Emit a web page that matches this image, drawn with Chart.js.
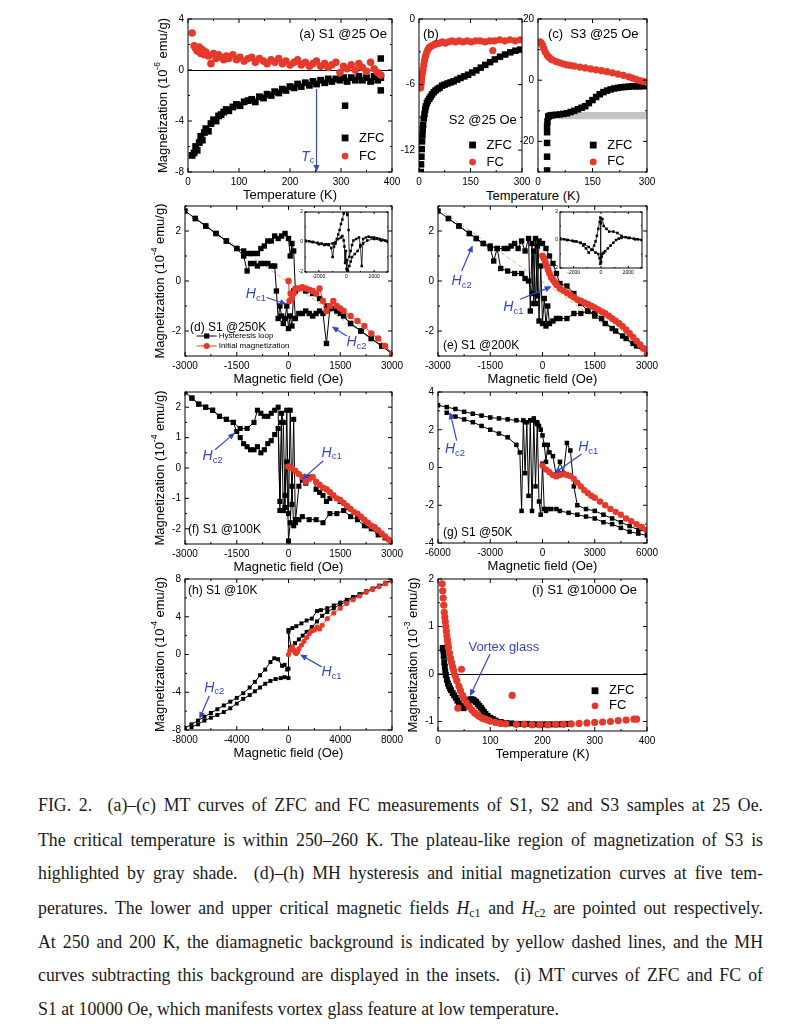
<!DOCTYPE html>
<html>
<head>
<meta charset="utf-8">
<title>FIG. 2</title>
<script src="https://cdn.jsdelivr.net/npm/chart.js@4.4.1/dist/chart.umd.min.js"></script>
<style>
  body { margin: 0; background: #fff; }
  #page { position: relative; width: 801px; height: 1024px; overflow: hidden; font-family: "Liberation Sans", Arial, sans-serif; }
  #page canvas { position: absolute; }
  .lab { position: absolute; font-size: 13px; transform: translate(-50%, -50%); white-space: nowrap; color: #000; }
  .cap { position: absolute; left: 38px; width: 725px; font-family: "Liberation Serif", "Times New Roman", serif; font-size: 17.8px; line-height: 20px; text-align: justify; text-align-last: justify; color: #1a1a1a; }
  .cap.last { text-align-last: left; }
  .cap sub { font-size: 12px; line-height: 0; vertical-align: -3px; }
</style>
</head>
<body>
<div id="page">
  <div class="lab" style="left:533px;top:195px">Temperature (K)</div>
  <div class="cap" style="top:795px">FIG. 2.&nbsp; (a)–(c) MT curves of ZFC and FC measurements of S1, S2 and S3 samples at 25 Oe.</div>
  <div class="cap" style="top:830px">The critical temperature is within 250–260 K. The plateau-like region of magnetization of S3 is</div>
  <div class="cap" style="top:863px">highlighted by gray shade.&nbsp; (d)–(h) MH hysteresis and initial magnetization curves at five tem-</div>
  <div class="cap" style="top:898px">peratures. The lower and upper critical magnetic fields <i>H</i><sub>c1</sub> and <i>H</i><sub>c2</sub> are pointed out respectively.</div>
  <div class="cap" style="top:932px">At 250 and 200 K, the diamagnetic background is indicated by yellow dashed lines, and the MH</div>
  <div class="cap" style="top:965px">curves subtracting this background are displayed in the insets.&nbsp; (i) MT curves of ZFC and FC of</div>
  <div class="cap last" style="top:999px">S1 at 10000 Oe, which manifests vortex glass feature at low temperature.</div>
</div>
<script>
// ---- data ----

// (a) S1 @25 Oe, M in 1e-6 emu/g
const aT = [8, 12, 15, 18, 22, 25, 28, 32, 35, 40, 45, 50, 55, 60, 65, 70, 75, 80, 88, 95, 102, 110, 118, 125, 132, 140, 148, 155, 163, 170, 178, 185, 192, 200, 208, 215, 222, 230, 238, 245, 252, 260, 268, 275, 282, 290, 298, 305, 312, 320, 328, 335, 342, 350, 358, 365, 372, 378];
const aZfc = [-6.7, -6.5, -6.0, -6.3, -5.7, -5.2, -5.5, -4.9, -4.6, -4.8, -4.2, -3.9, -4.0, -3.6, -3.5, -3.3, -3.1, -3.2, -2.9, -2.7, -2.8, -2.5, -2.4, -2.3, -2.5, -2.1, -2.2, -1.9, -2.0, -1.7, -1.8, -1.5, -1.6, -1.3, -1.4, -1.1, -1.3, -1.0, -1.2, -0.9, -1.1, -0.8, -1.0, -0.7, -0.9, -0.7, -0.8, -0.6, -0.9, -0.6, -0.8, -0.5, -0.8, -0.6, -0.9, -0.5, -0.8, -0.6];
const aFc = [2.9, 1.9, 1.7, 1.5, 1.8, 1.3, 1.6, 1.2, 1.4, 1.1, 0.5, 1.3, 0.9, 1.2, 1.0, 0.8, 1.1, 0.9, 1.2, 0.8, 1.0, 0.7, 0.9, 1.0, 0.6, 0.9, 0.7, 0.5, 0.8, 0.6, 0.9, 0.5, 0.7, 0.4, 0.6, 0.8, 0.4, 0.6, 0.3, 0.5, 0.7, 0.3, 0.5, 0.2, 0.4, 0.6, -0.2, 0.3, 0.1, 0.4, 0.0, 0.5, 0.2, -0.1, 0.6, 0.1, -0.2, -0.4];
const aZfcOddT = [308, 378, 378];
const aZfcOdd = [-2.8, 0.9, -1.6];

// (b) S2 @25 Oe
const bZfcT = [5, 6, 7, 8, 9, 10, 11, 12, 14, 16, 18, 20, 23, 26, 30, 34, 38, 43, 48, 54, 60, 67, 75, 83, 92, 101, 111, 121, 132, 143, 155, 167, 180, 193, 207, 221, 236, 251, 266, 281, 295];
const bZfc = [-14, -13.3, -12.6, -11.9, -11.2, -10.6, -10.1, -9.7, -9.1, -8.7, -8.3, -8.0, -7.7, -7.5, -7.3, -7.1, -6.9, -6.7, -6.55, -6.4, -6.3, -6.1, -6.0, -5.9, -5.8, -5.7, -5.55, -5.4, -5.25, -5.1, -4.9, -4.7, -4.45, -4.2, -3.95, -3.7, -3.45, -3.25, -3.05, -2.9, -2.8];
const bFcT = [5, 6, 7, 8, 9, 10, 12, 14, 16, 18, 20, 23, 26, 30, 35, 40, 46, 52, 60, 68, 77, 86, 96, 106, 117, 128, 140, 152, 165, 178, 192, 206, 215, 220, 235, 250, 265, 280, 295];
const bFc = [-6.3, -6.0, -5.7, -5.4, -5.1, -4.9, -4.6, -4.2, -3.8, -3.5, -3.3, -3.0, -2.8, -2.6, -2.5, -2.4, -2.3, -2.25, -2.2, -2.1, -2.2, -2.1, -2.0, -2.1, -2.0, -2.1, -2.0, -2.1, -2.0, -2.0, -2.1, -2.0, -2.9, -2.0, -1.9, -2.0, -1.9, -2.0, -1.9];

// (c) S3 @25 Oe
const cZfcT = [25, 25, 25, 25, 25, 26, 28, 30, 35, 40, 50, 60, 70, 80, 90, 100, 110, 120, 130, 140, 150, 160, 170, 180, 190, 200, 210, 220, 230, 240, 250, 260, 270, 280, 290, 300];
const cZfc = [-29.5, -25, -20.5, -17, -15, -13.5, -12, -11.7, -11.5, -11.4, -11.3, -11.2, -11.0, -10.8, -10.4, -10.0, -9.5, -9.0, -8.5, -7.5, -6.5, -5.5, -4.6, -3.9, -3.4, -3.0, -2.7, -2.5, -2.3, -2.2, -2.1, -2.0, -2.0, -2.0, -1.9, -1.9];
const cFcT = [5, 8, 10, 13, 16, 20, 25, 30, 35, 40, 50, 60, 70, 80, 90, 100, 115, 130, 145, 160, 175, 190, 205, 220, 235, 250, 260, 270, 280, 290, 300];
const cFc = [12.5, 12.3, 12.0, 11.3, 10.3, 9.2, 8.2, 7.5, 7.0, 6.6, 6.1, 5.7, 5.3, 5.0, 4.8, 4.6, 4.3, 4.0, 3.7, 3.4, 3.1, 2.8, 2.4, 2.0, 1.6, 1.1, 0.7, 0.3, -0.1, -0.4, -0.7];
const cBandT = [28, 300];
const cBandHi = [-10.4, -10.4];
const cBandLo = -12.8;

// (d) S1 @250K, M in 1e-4 emu/g
const dDownH = [3000, 2700, 2400, 2100, 1800, 1500, 1300, 1100, 900, 700, 500, 300, 200, 150, 100, 50, 0, -100, -200, -300, -400, -500, -600, -700, -800, -900, -1000, -1100, -1200, -1300, -1500, -1800, -2100, -2400, -2700, -3000];
const dDown = [-2.9, -2.6, -2.3, -2.0, -1.7, -1.3, -1.1, -1.0, -0.7, -0.5, -0.4, -0.3, -0.4, 1.2, 1.5, 1.0, 1.7, 1.9, 1.8, 1.7, 1.8, 1.6, 1.6, 1.4, 1.3, 1.1, 1.1, 1.1, 1.1, 1.2, 1.3, 1.6, 1.9, 2.2, 2.5, 2.8];
const dUpH = [-2700, -2400, -2100, -1800, -1500, -1300, -1200, -1100, -1000, -900, -800, -700, -600, -500, -400, -350, -300, -250, -200, -150, -100, -50, 0, 50, 100, 150, 200, 300, 400, 500, 600, 700, 800, 900, 1000, 1100, 1200, 1400, 1600, 1800, 2100, 2400, 2700, 3000];
const dUp = [2.5, 2.2, 1.9, 1.6, 1.3, 1.0, 0.4, 0.7, 0.7, 0.6, 0.7, 0.7, 0.7, 0.6, 0.6, -0.4, -1.5, -1.0, -1.4, -1.7, -1.5, -1.0, -1.9, -1.4, -1.8, -0.4, -1.5, -1.3, -1.3, -1.2, -1.3, -1.4, -1.3, -1.2, -1.3, -2.5, -1.1, -1.2, -1.4, -1.7, -2.0, -2.3, -2.6, -2.9];
const dIniH = [0, 30, 60, 100, 150, 200, 300, 400, 500, 600, 700, 800, 900, 1000, 1100, 1200, 1300, 1400, 1500, 1600, 1800, 2000, 2200, 2400, 2600, 2800, 3000];
const dIni = [0.0, -0.8, -0.5, -0.7, -0.5, -0.3, -0.3, -0.25, -0.3, -0.35, -0.4, -0.5, -0.3, -0.8, -1.2, -1.0, -0.8, -1.0, -1.1, -1.2, -1.4, -1.6, -1.8, -2.1, -2.3, -2.6, -2.9];
const dBgH = [-3000, 3000];
const dBg = [2.8, -2.9];
// (d) inset, background removed
const dInsAH = [-3000, -2700, -2400, -2100, -1800, -1500, -1300, -1100, -1000, -900, -800, -700, -600, -500, -400, -300, -200, -150, -100, -50, 0, 50, 100, 150, 200, 300, 400, 500, 700, 900, 1000, 1100, 1200, 1400, 1600, 1800, 2000, 2200, 2400, 2600, 2800, 3000];
const dInsA = [0.1, 0.05, 0.0, -0.05, -0.1, -0.15, -0.2, -0.4, -1.0, -0.3, -0.1, 0.2, 0.5, 0.8, 1.2, 1.5, 1.9, 2.6, 2.3, 2.8, 2.5, 1.8, 2.6, 0.8, -1.0, -0.6, -0.2, 0.1, 0.2, 0.3, -0.2, -1.6, 0.2, 0.3, 0.35, 0.3, 0.3, 0.25, 0.2, 0.15, 0.1, 0.05];
const dInsBH = [3000, 2500, 2000, 1500, 1200, 1000, 800, 600, 400, 300, 200, 100, 50, 0, -50, -100, -150, -200, -300, -400, -600, -800, -1000, -1300, -1600, -2000, -2500, -3000];
const dInsB = [0.0, 0.1, 0.2, 0.1, -0.1, -0.3, -0.6, -0.8, -1.0, -1.3, -1.6, -1.9, -1.2, -1.8, -0.6, -1.4, -0.3, 0.1, 0.4, 0.3, 0.2, 0.0, -0.1, -0.15, -0.2, -0.15, 0.0, 0.1];

// (e) S1 @200K
const eDownH = [3000, 2700, 2400, 2100, 1800, 1500, 1300, 1100, 900, 700, 500, 400, 300, 200, 100, 0, -100, -150, -200, -250, -300, -350, -400, -500, -600, -700, -800, -900, -1000, -1100, -1300, -1500, -1700, -1900, -2100, -2400, -2700, -3000];
const eDown = [-2.9, -2.6, -2.3, -2.0, -1.7, -1.4, -1.2, -0.9, -0.5, -0.2, -0.1, 0.3, 0.7, 1.0, 1.3, 1.5, 1.6, -0.6, 1.7, -0.9, 1.5, -1.2, 1.7, 1.2, 1.6, 1.3, 1.5, 1.4, 1.3, 1.3, 1.3, 1.4, 1.5, 1.7, 1.9, 2.2, 2.5, 2.8];
const eUpH = [-2700, -2400, -2100, -1900, -1700, -1500, -1400, -1300, -1200, -1000, -800, -600, -500, -400, -300, -250, -200, -150, -100, -50, 0, 50, 100, 150, 200, 300, 400, 500, 700, 900, 1100, 1300, 1500, 1700, 2000, 2300, 2600, 3000];
const eUp = [2.5, 2.2, 1.9, 1.7, 1.5, 1.3, 0.8, 1.3, 0.5, 0.4, 0.3, 0.3, 0.1, 0.0, -0.5, 1.2, -0.9, 1.4, -1.6, 0.6, -1.7, -0.7, -1.8, -1.0, -1.7, -1.6, -1.5, -1.5, -1.5, -1.3, -1.3, -1.2, -1.3, -1.5, -1.9, -2.2, -2.5, -2.9];
const eIniH = [0, 40, 80, 120, 160, 200, 250, 300, 350, 400, 500, 600, 700, 800, 900, 1000, 1100, 1200, 1300, 1400, 1500, 1600, 1700, 1800, 1900, 2000, 2100, 2200, 2300, 2400, 2500, 2600, 2700, 2800, 2900, 3000];
const eIni = [1.0, 0.9, 0.75, 0.6, 0.45, 0.3, 0.15, 0.05, -0.05, -0.15, -0.3, -0.38, -0.47, -0.56, -0.65, -0.75, -0.8, -0.87, -0.93, -1.0, -1.07, -1.15, -1.23, -1.3, -1.4, -1.5, -1.6, -1.7, -1.82, -1.95, -2.1, -2.25, -2.4, -2.55, -2.7, -2.9];
const eBgH = [-3000, 3000];
const eBg = [2.9, -2.95];
const eInsAH = [-3000, -2700, -2400, -2100, -1800, -1500, -1300, -1100, -900, -700, -500, -400, -300, -200, -100, -50, 0, 50, 100, 200, 300, 500, 700, 900, 1100, 1300, 1500, 1800, 2100, 2400, 2700, 3000];
const eInsA = [0.1, 0.05, 0.0, -0.05, -0.1, -0.2, -0.4, -0.6, -0.9, -0.7, -0.4, -0.1, 0.3, 0.8, 1.3, 1.6, -1.6, -1.2, -1.0, -0.9, -0.8, -0.6, -0.4, -0.2, 0.0, 0.1, 0.15, 0.2, 0.15, 0.1, 0.05, 0.0];
const eInsBH = [3000, 2500, 2000, 1500, 1200, 900, 600, 400, 200, 100, 0, -50, -100, -200, -400, -600, -900, -1200, -1500, -2000, -2500, -3000];
const eInsB = [0.0, 0.05, 0.15, 0.3, 0.5, 0.6, 0.6, 0.8, 1.0, 1.5, 1.2, -1.7, -1.3, -1.0, -0.9, -0.7, -0.5, -0.3, -0.2, -0.1, 0.0, 0.1];

// (f) S1 @100K
const fDownH = [3000, 2600, 2300, 2000, 1700, 1500, 1300, 1200, 1100, 1000, 900, 800, 700, 600, 500, 400, 300, 200, 150, 100, 50, 0, -50, -100, -150, -200, -250, -300, -400, -500, -600, -700, -800, -900, -1000, -1200, -1400, -1600, -1800, -2000, -2200, -2400, -2600, -2800, -3000];
const fDown = [-2.5, -2.1, -1.9, -1.6, -1.3, -1.1, -0.9, -1.0, -1.1, -0.9, -0.8, -0.7, -0.3, -0.3, -0.5, -0.4, -0.6, -1.8, 1.6, -1.2, 1.9, -1.5, 1.9, -1.3, 1.5, 1.8, -1.4, 2.0, 1.9, 1.8, 1.7, 1.7, 1.8, 1.9, 1.5, 1.3, 1.3, 1.5, 1.6, 1.7, 1.9, 2.0, 2.1, 2.3, 2.5];
const fUpH = [-2800, -2600, -2400, -2200, -2000, -1800, -1600, -1500, -1400, -1300, -1200, -1100, -1000, -900, -800, -700, -600, -500, -400, -300, -250, -200, -150, -100, -50, 0, 50, 100, 150, 200, 300, 400, 600, 800, 1000, 1200, 1400, 1600, 1800, 2000, 2200, 2400, 2600, 2800, 3000];
const fUp = [2.3, 2.1, 2.0, 1.9, 1.7, 1.6, 1.5, 1.2, 1.0, 0.8, 0.7, 0.6, 0.6, 0.7, 0.5, 0.6, 0.8, 0.9, 1.1, 1.3, -1.1, 1.5, -1.4, -0.9, 0.2, -2.4, -1.8, -0.6, -1.9, -1.7, -1.7, -1.6, -1.7, -1.7, -1.8, -1.5, -1.5, -1.4, -1.6, -1.7, -1.9, -2.0, -2.2, -2.3, -2.5];
const fIniH = [0, 100, 200, 300, 400, 500, 600, 700, 800, 900, 1000, 1100, 1200, 1300, 1400, 1500, 1600, 1700, 1800, 1900, 2000, 2100, 2200, 2300, 2400, 2500, 2600, 2700, 2800, 2900, 3000];
const fIni = [0.05, 0.0, -0.1, -0.2, -0.3, -0.45, -0.35, -0.3, -0.45, -0.55, -0.65, -0.7, -0.8, -0.9, -1.0, -1.05, -1.15, -1.25, -1.35, -1.45, -1.5, -1.6, -1.7, -1.8, -1.9, -1.95, -2.05, -2.15, -2.25, -2.35, -2.45];

// (g) S1 @50K
const gDownH = [6000, 5500, 5000, 4500, 4000, 3500, 3000, 2500, 2000, 1800, 1600, 1400, 1200, 1000, 800, 600, 400, 300, 200, 100, 0, -100, -200, -300, -400, -500, -700, -1000, -1500, -2000, -2500, -3000, -3500, -4000, -4500, -5000, -5500, -6000];
const gDown = [-3.4, -3.3, -3.1, -2.9, -2.7, -2.5, -2.3, -2.2, -2.0, -1.0, 0.9, 1.3, -0.3, 0.3, -0.5, 0.6, 0.8, 1.2, 0.3, 1.2, 1.7, 2.0, 2.2, 2.3, 2.4, 2.6, 2.5, 2.4, 2.5, 2.55, 2.6, 2.65, 2.75, 2.85, 2.95, 3.1, 3.2, 3.3];
const gUpH = [-5500, -5000, -4500, -4000, -3500, -3000, -2500, -2000, -1500, -1300, -1200, -1100, -1000, -900, -800, -700, -600, -500, -400, -300, -200, -100, 0, 100, 200, 300, 500, 800, 1000, 1500, 2000, 2500, 3000, 3500, 4000, 4500, 5000, 5500, 6000];
const gUp = [2.9, 2.7, 2.55, 2.4, 2.2, 2.0, 1.8, 1.6, 1.2, 0.8, -2.3, 2.5, -0.3, 2.4, -1.5, 2.5, -2.3, 2.5, -1.0, 2.4, -1.8, -2.5, 0.2, -2.2, -2.3, -2.2, -2.2, -2.2, -2.3, -2.4, -2.5, -2.6, -2.7, -2.9, -3.0, -3.2, -3.4, -3.5, -3.6];
const gIniH = [0, 200, 400, 600, 800, 1000, 1200, 1400, 1600, 1800, 2000, 2200, 2400, 2600, 2800, 3000, 3300, 3600, 3900, 4200, 4500, 4800, 5100, 5400, 5700, 6000];
const gIni = [0.1, -0.1, -0.25, -0.4, -0.45, -0.4, -0.35, -0.4, -0.45, -0.6, -0.8, -1.0, -1.2, -1.35, -1.5, -1.6, -1.8, -2.0, -2.2, -2.35, -2.5, -2.7, -2.85, -3.0, -3.15, -3.3];

// (h) S1 @10K
const hDownH = [8000, 7500, 7000, 6500, 6000, 5500, 5000, 4500, 4000, 3500, 3000, 2500, 2200, 1800, 1400, 1000, 600, 300, 0, 0, -100, -300, -500, -800, -1100, -1400, -1800, -2200, -2600, -3000, -3500, -4000, -4500, -5000, -5500, -6000, -6500, -7000, -7500, -8000];
const hDown = [7.9, 7.6, 7.3, 7.0, 6.7, 6.4, 6.1, 5.8, 5.5, 5.2, 4.9, 4.7, 4.6, 3.8, 3.6, 3.3, 3.0, 2.8, 2.6, -1.5, -1.6, -1.1, -1.2, -0.5, -0.4, -0.8, -1.6, -2.2, -2.9, -3.5, -4.1, -4.6, -5.0, -5.4, -5.8, -6.2, -6.6, -7.0, -7.4, -7.8];
const hUpH = [-7500, -7000, -6500, -6000, -5500, -5000, -4500, -4000, -3500, -3000, -2600, -2200, -1800, -1400, -1000, -600, -300, 0, 0, 200, 500, 800, 1100, 1400, 1800, 2200, 2600, 3000, 3500, 4000, 4500, 5000, 5500, 6000, 6500, 7000, 7500, 8000];
const hUp = [-7.7, -7.4, -7.0, -6.7, -6.4, -6.1, -5.7, -5.2, -4.7, -4.3, -3.9, -3.5, -3.1, -2.8, -2.6, -2.5, -2.4, -2.5, 2.4, 0.8, 1.2, 1.6, 2.0, 2.4, 2.9, 3.5, 4.1, 4.5, 4.9, 5.3, 5.6, 6.0, 6.3, 6.6, 6.9, 7.2, 7.5, 7.9];
const hIniH = [0, 100, 200, 300, 400, 500, 600, 700, 800, 1000, 1200, 1400, 1600, 1800, 2000, 2200, 2400, 2600, 3000, 3500, 4000, 4500, 5000, 5500, 6000, 6500, 7000, 7500, 8000];
const hIni = [0.0, 0.4, 0.6, 0.8, 0.5, 0.2, 0.1, 0.3, 0.6, 1.0, 1.4, 1.8, 2.2, 2.5, 2.6, 2.9, 2.7, 3.1, 3.8, 4.4, 4.9, 5.4, 5.8, 6.2, 6.6, 6.9, 7.2, 7.5, 7.8];

// (i) S1 @10000 Oe, M in 1e-3 emu/g
const iZfcT = [9, 10, 11, 12, 13, 14, 15, 17, 19, 21, 23, 25, 28, 31, 34, 37, 40, 43, 46, 49, 52, 55, 58, 61, 64, 67, 70, 73, 76, 79, 82, 85, 88, 91, 95, 100, 105, 110, 120, 130, 140, 150, 160, 170, 180, 190, 200, 210, 220, 230, 240, 250];
const iZfc = [0.55, 0.5, 0.38, 0.25, 0.15, 0.05, -0.02, -0.12, -0.2, -0.25, -0.3, -0.34, -0.4, -0.45, -0.5, -0.56, -0.62, -0.67, -0.71, -0.72, -0.68, -0.62, -0.57, -0.54, -0.53, -0.54, -0.56, -0.59, -0.63, -0.67, -0.71, -0.75, -0.8, -0.84, -0.88, -0.92, -0.95, -0.98, -1.01, -1.03, -1.04, -1.05, -1.05, -1.05, -1.06, -1.06, -1.06, -1.06, -1.06, -1.06, -1.05, -1.05];
const iFcT = [8, 9, 10, 11, 12, 13, 14, 15, 16, 17, 18, 19, 20, 22, 24, 26, 28, 30, 33, 36, 38, 40, 43, 45, 47, 50, 55, 60, 65, 70, 75, 80, 85, 90, 95, 100, 110, 120, 130, 142, 150, 165, 180, 195, 210, 225, 240, 255, 270, 285, 300, 315, 330, 345, 360, 375, 380];
const iFc = [1.9, 1.75, 1.6, 1.45, 1.3, 1.2, 1.1, 1.0, 0.9, 0.8, 0.72, 0.64, 0.56, 0.44, 0.33, 0.24, 0.15, 0.07, -0.04, -0.14, -0.72, -0.26, -0.35, 0.1, -0.45, -0.52, -0.61, -0.69, -0.76, -0.82, -0.86, -0.9, -0.93, -0.95, -0.97, -0.99, -1.02, -1.04, -1.05, -0.45, -1.06, -1.06, -1.07, -1.07, -1.07, -1.06, -1.06, -1.05, -1.04, -1.03, -1.02, -1.01, -1.0, -0.98, -0.97, -0.95, -0.95];

// tick labels
const tT400 = [0, 100, 200, 300, 400];
const tT300 = [0, 150, 300];
const tH3000 = [-3000, -1500, 0, 1500, 3000];
const tH6000 = [-6000, -3000, 0, 3000, 6000];
const tH8000 = [-8000, -4000, 0, 4000, 8000];
const tHins = [-2000, 0, 2000];
const tMa = [-8, -4, 0, 4];
const tMb = [-12, -6, 0];
const tMc = [-20, 0, 20];
const tMde = [-2, 0, 2];
const tMf = [-2, -1, 0, 1, 2];
const tMg = [-4, -2, 0, 2, 4];
const tMh = [-8, -4, 0, 4, 8];
const tMi = [-1, 0, 1, 2];

// ---- drawing ----
const SANS = '"Liberation Sans", Arial, sans-serif';
const RED = '#e5392c';
const BLUE = '#3346c6';

const pts = (xs, ys) => xs.map((x, i) => ({x: x, y: ys[i]}));

function sq(xs, ys, r) {
  return {data: pts(xs, ys), showLine: false, pointStyle: 'rect', pointRadius: r, pointBackgroundColor: '#000', pointBorderWidth: 0};
}
function dot(xs, ys, r) {
  return {data: pts(xs, ys), showLine: false, pointStyle: 'circle', pointRadius: r, pointBackgroundColor: RED, pointBorderWidth: 0};
}
function sqLine(xs, ys, r, w) {
  return {data: pts(xs, ys), showLine: true, borderColor: '#000', borderWidth: w || 1, pointStyle: 'rect', pointRadius: r, pointBackgroundColor: '#000', pointBorderWidth: 0};
}
function dotLine(xs, ys, r) {
  return {data: pts(xs, ys), showLine: true, borderColor: RED, borderWidth: 1, pointStyle: 'circle', pointRadius: r, pointBackgroundColor: RED, pointBorderWidth: 0};
}
function dashed(xs, ys) {
  return {data: pts(xs, ys), showLine: true, borderColor: '#c2bd6e', borderWidth: 1, borderDash: [4, 3], pointRadius: 0};
}

// text made of pieces: [text, size, italic, dy]
function rich(ctx, parts, x, y, align) {
  const font = p => (p[2] ? 'italic ' : '') + p[1] + 'px ' + SANS;
  let w = 0;
  parts.forEach(p => { ctx.font = font(p); w += ctx.measureText(p[0]).width; });
  let cx = align === 'left' ? x : align === 'right' ? x - w : x - w / 2;
  ctx.textAlign = 'left';
  ctx.textBaseline = 'middle';
  parts.forEach(p => {
    ctx.font = font(p);
    ctx.fillText(p[0], cx, y + (p[3] || 0));
    cx += ctx.measureText(p[0]).width;
  });
}

function arrowTo(ctx, x1, y1, x2, y2) {
  const a = Math.atan2(y2 - y1, x2 - x1), L = 7, W = 3;
  const c = Math.cos(a), s = Math.sin(a);
  ctx.beginPath();
  ctx.moveTo(x1, y1);
  ctx.lineTo(x2 - c * L * 0.8, y2 - s * L * 0.8);
  ctx.stroke();
  ctx.beginPath();
  ctx.moveTo(x2, y2);
  ctx.lineTo(x2 - L * c + W * s, y2 - L * s - W * c);
  ctx.lineTo(x2 - L * c - W * s, y2 - L * s + W * c);
  ctx.closePath();
  ctx.fill();
}

// frame with inward ticks, labels, arrows and keys
function makeDeco(o) {
  return {
    id: 'deco',
    beforeDraw(chart) {
      if (!o.white) return;
      const a = chart.chartArea, ctx = chart.ctx;
      ctx.save();
      ctx.fillStyle = '#fff';
      ctx.fillRect(a.left, a.top, a.right - a.left, a.bottom - a.top);
      ctx.restore();
    },
    beforeDatasetsDraw(chart) {
      if (!o.zero) return;
      const a = chart.chartArea, ctx = chart.ctx, y0 = Math.round(chart.scales.y.getPixelForValue(0)) + 0.5;
      ctx.save();
      ctx.strokeStyle = '#000';
      ctx.lineWidth = 1;
      ctx.beginPath();
      ctx.moveTo(a.left, y0);
      ctx.lineTo(a.right, y0);
      ctx.stroke();
      ctx.restore();
    },
    afterDraw(chart) {
      const ctx = chart.ctx, a = chart.chartArea;
      const sx = chart.scales.x, sy = chart.scales.y;
      const X = v => sx.getPixelForValue(v), Y = v => sy.getPixelForValue(v);
      ctx.save();
      ctx.strokeStyle = '#000';
      ctx.lineWidth = 1;
      ctx.strokeRect(a.left, a.top, a.right - a.left, a.bottom - a.top);

      const tl = o.tick || 4;
      const marks = (sc) => {
        const vals = sc.ticks.map(t => t.value), out = [];
        const half = (vals[1] - vals[0]) / 2;
        let v = vals[0];
        while (v - half >= sc.min - 1e-9) v -= half;
        for (; v <= sc.max + 1e-9; v += half) {
          const major = vals.some(m => Math.abs(m - v) < half / 10);
          out.push([sc.getPixelForValue(v), major ? tl : tl / 2]);
        }
        return out;
      };
      ctx.beginPath();
      marks(sx).forEach(([p, l]) => {
        ctx.moveTo(p, a.bottom); ctx.lineTo(p, a.bottom - l);
        ctx.moveTo(p, a.top); ctx.lineTo(p, a.top + l);
      });
      marks(sy).forEach(([p, l]) => {
        ctx.moveTo(a.left, p); ctx.lineTo(a.left + l, p);
        ctx.moveTo(a.right, p); ctx.lineTo(a.right - l, p);
      });
      ctx.stroke();

      (o.texts || []).forEach(t => {
        ctx.fillStyle = t.c || '#000';
        rich(ctx, [[t.t, t.s || 12]], X(t.x), Y(t.y), t.al || 'left');
      });
      (o.subs || []).forEach(t => {
        ctx.fillStyle = BLUE;
        rich(ctx, [[t.t, 14, true], [t.b, 9.5, false, 4]], X(t.x), Y(t.y), 'center');
      });
      ctx.strokeStyle = BLUE;
      ctx.fillStyle = BLUE;
      ctx.lineWidth = 1.2;
      (o.arrows || []).forEach(r => arrowTo(ctx, X(r[0]), Y(r[1]), X(r[2]), Y(r[3])));

      (o.keys || []).forEach(k => {
        const px = X(k.x), py = Y(k.y), col = k.kind === 'rect' ? '#000' : RED;
        ctx.strokeStyle = col;
        ctx.fillStyle = col;
        ctx.lineWidth = 1;
        if (k.line) {
          ctx.beginPath(); ctx.moveTo(px - 10, py); ctx.lineTo(px + 10, py); ctx.stroke();
        }
        const r = k.r || 3.4;
        if (k.kind === 'rect') ctx.fillRect(px - r, py - r, 2 * r, 2 * r);
        else { ctx.beginPath(); ctx.arc(px, py, r, 0, Math.PI * 2); ctx.fill(); }
        ctx.fillStyle = '#000';
        rich(ctx, [[k.t, k.s || 13]], px + (k.dx || 14), py, 'left');
      });

      if (o.ytitle) {
        ctx.translate(a.left - 25, (a.top + a.bottom) / 2);
        ctx.rotate(-Math.PI / 2);
        ctx.fillStyle = '#000';
        rich(ctx, [['Magnetization (10', 13], [o.ytitle, 8.5, false, -5], [' emu/g)', 13]], 0, 0, 'center');
      }
      ctx.restore();
    }
  };
}

function panel(p) {
  const yW = p.yW || 26, xH = p.xH || 16, padT = p.padT || 10, padR = p.padR || 18;
  const [L, R, T, B] = p.box;
  const cv = document.createElement('canvas');
  cv.width = R - L + yW + padR;
  cv.height = B - T + padT + xH;
  cv.style.left = (L - yW) + 'px';
  cv.style.top = (T - padT) + 'px';
  document.getElementById('page').appendChild(cv);
  const fs = p.fs || 10;
  const scale = (lim, ticks, title, fit) => ({
    type: 'linear',
    min: lim[0],
    max: lim[1],
    afterBuildTicks: s => { s.ticks = ticks.map(v => ({value: v})); },
    afterFit: fit,
    grid: {display: false, drawTicks: false},
    border: {display: false},
    ticks: {color: '#000', font: {family: SANS, size: fs}, padding: p.tp || 4, maxRotation: 0, autoSkip: false, callback: v => String(v)},
    title: {display: !!title, text: title || '', color: '#000', font: {family: SANS, size: 13}, padding: {top: 0, bottom: 3}}
  });
  return new Chart(cv, {
    type: 'scatter',
    data: {datasets: p.sets},
    options: {
      responsive: false,
      animation: false,
      events: [],
      layout: {padding: {top: padT, right: padR, left: 0, bottom: 0}},
      plugins: {legend: {display: false}, tooltip: {enabled: false}},
      scales: {
        x: scale(p.xr, p.xt, p.xTitle, s => { s.height = xH; }),
        y: scale(p.yr, p.yt, null, s => { s.width = yW; })
      }
    },
    plugins: [makeDeco(p.deco || {})]
  });
}

// (a)
panel({
  box: [188, 392, 19, 172], yW: 38, xH: 34, xr: [0, 400], xt: tT400, yr: [-8, 4], yt: tMa, xTitle: 'Temperature (K)',
  sets: [dot(aT, aFc, 3.8), sq(aT, aZfc, 4.8), sq(aZfcOddT, aZfcOdd, 4.6)],
  deco: {
    zero: true, ytitle: '-6',
    texts: [{x: 390, y: 2.82, t: '(a) S1 @25 Oe', al: 'right', s: 13}],
    subs: [{x: 235, y: -6.8, t: 'T', b: 'c'}],
    arrows: [[252, -1.5, 252, -8]],
    keys: [{x: 308, y: -5.33, kind: 'rect', t: 'ZFC'}, {x: 308, y: -6.75, kind: 'circle', t: 'FC'}]
  }
});
// (b)
panel({
  box: [419, 522, 19, 172], xr: [0, 300], xt: tT300, yr: [-14, 0], yt: tMb,
  sets: [dot(bFcT, bFc, 3.6), sq(bZfcT, bZfc, 4.6)],
  deco: {
    texts: [{x: 11.6, y: -1.37, t: '(b)', s: 13}, {x: 285, y: -9.24, t: 'S2 @25 Oe', al: 'right', s: 13}],
    keys: [{x: 156, y: -11.53, kind: 'rect', t: 'ZFC'}, {x: 156, y: -13.09, kind: 'circle', t: 'FC'}]
  }
});
// (c)
panel({
  box: [538, 647, 19, 172], xr: [0, 300], xt: tT300, yr: [-30, 20], yt: tMc,
  sets: [dot(cFcT, cFc, 3.6), sq(cZfcT, cZfc, 4.6),
    {data: pts(cBandT, cBandHi), showLine: true, borderWidth: 0, pointRadius: 0, fill: {value: cBandLo}, backgroundColor: '#c4c4c4'}],
  deco: {
    texts: [{x: 27.5, y: 15.1, t: '(c)  S3 @25 Oe', s: 13}],
    keys: [{x: 152, y: -21.2, kind: 'rect', t: 'ZFC'}, {x: 152, y: -26.7, kind: 'circle', t: 'FC'}]
  }
});
// (d)
panel({
  box: [185, 392, 206, 356], yW: 38, xH: 34, xr: [-3000, 3000], xt: tH3000, yr: [-3, 3], yt: tMde, xTitle: 'Magnetic field (Oe)',
  sets: [dotLine(dIniH, dIni, 3.2), sqLine(dDownH, dDown, 3.8), sqLine(dUpH, dUp, 3.8), dashed(dBgH, dBg)],
  deco: {
    ytitle: '-4',
    texts: [{x: -2855, y: -1.85, t: '(d) S1 @250K', s: 12}],
    subs: [{x: -946, y: -0.53, t: 'H', b: 'c1'}, {x: 1970, y: -2.46, t: 'H', b: 'c2'}],
    arrows: [[-631, -0.66, -52, -0.93], [1689, -2.2, 1253, -1.82]],
    keys: [{x: -2371, y: -2.2, kind: 'rect', line: true, t: 'Hysteresis loop', s: 8, r: 2.6, dx: 12},
           {x: -2371, y: -2.6, kind: 'circle', line: true, t: 'Initial magnetization', s: 8, r: 3, dx: 12}]
  }
});
// (e)
panel({
  box: [438, 647, 206, 356], xH: 34, xr: [-3000, 3000], xt: tH3000, yr: [-3, 3], yt: tMde, xTitle: 'Magnetic field (Oe)',
  sets: [dotLine(eIniH, eIni, 3.4), sqLine(eDownH, eDown, 3.8), sqLine(eUpH, eUp, 3.8), dashed(eBgH, eBg)],
  deco: {
    texts: [{x: -2856, y: -2.6, t: '(e) S1 @200K', s: 12}],
    subs: [{x: -2320, y: 0, t: 'H', b: 'c2'}, {x: -837, y: -1.06, t: 'H', b: 'c1'}],
    arrows: [[-2320, 0.4, -2004, 1.43], [-646, -0.73, 264, -0.22]]
  }
});
// (f)
panel({
  box: [185, 392, 392, 544], yW: 38, xH: 34, xr: [-3000, 3000], xt: tH3000, yr: [-2.5, 2.5], yt: tMf, xTitle: 'Magnetic field (Oe)',
  sets: [dotLine(fIniH, fIni, 3.2), sqLine(fDownH, fDown, 3.6), sqLine(fUpH, fUp, 3.6)],
  deco: {
    ytitle: '-4',
    texts: [{x: -2913, y: -2.04, t: '(f) S1 @100K', s: 12}],
    subs: [{x: -2200, y: 0.38, t: 'H', b: 'c2'}, {x: 1250, y: 0.5, t: 'H', b: 'c1'}],
    arrows: [[-2130, 0.6, -1550, 1.16], [1009, 0.24, 383, -0.39]]
  }
});
// (g)
panel({
  box: [438, 647, 392, 543], xH: 34, xr: [-6000, 6000], xt: tH6000, yr: [-4, 4], yt: tMg, xTitle: 'Magnetic field (Oe)',
  sets: [dotLine(gIniH, gIni, 3.2), sqLine(gDownH, gDown, 3.2), sqLine(gUpH, gUp, 3.2)],
  deco: {
    texts: [{x: -5713, y: -3.44, t: '(g) S1 @50K', s: 12}],
    subs: [{x: -5024, y: 0.97, t: 'H', b: 'c2'}, {x: 2630, y: 1.06, t: 'H', b: 'c1'}],
    arrows: [[-4927, 1.42, -5311, 2.93], [2248, 0.71, 660, -0.32]]
  }
});
// (h)
panel({
  box: [185, 392, 579, 730], yW: 38, xH: 34, xr: [-8000, 8000], xt: tH8000, yr: [-8, 8], yt: tMh, xTitle: 'Magnetic field (Oe)',
  sets: [dotLine(hIniH, hIni, 2.6), sqLine(hDownH, hDown, 2.8), sqLine(hUpH, hUp, 2.8)],
  deco: {
    ytitle: '-4',
    texts: [{x: -7768, y: 6.8, t: '(h) S1 @10K', s: 12}],
    subs: [{x: -5740, y: -3.53, t: 'H', b: 'c2'}, {x: 3330, y: -1.9, t: 'H', b: 'c1'}],
    arrows: [[-6120, -4.38, -6890, -6.84], [2560, -1.31, 890, 0]]
  }
});
// (i)
panel({
  box: [438, 647, 579, 731], yW: 38, xH: 34, xr: [0, 400], xt: tT400, yr: [-1.2, 2], yt: tMi, xTitle: 'Temperature (K)',
  sets: [dot(iFcT, iFc, 3.6), sq(iZfcT, iZfc, 4.2)],
  deco: {
    zero: true, ytitle: '-3',
    texts: [{x: 381, y: 1.76, t: '(i) S1 @10000 Oe', al: 'right', s: 13}, {x: 126, y: 0.56, t: 'Vortex glass', al: 'center', s: 13, c: BLUE}],
    arrows: [[99.5, 0.42, 61, -0.47]],
    keys: [{x: 300.5, y: -0.353, kind: 'rect', t: 'ZFC'}, {x: 300.5, y: -0.67, kind: 'circle', t: 'FC'}]
  }
});
// insets of (d) and (e)
panel({
  box: [305, 388, 211, 272], yW: 9, xH: 9, padT: 4, padR: 8, fs: 5, tp: 2, xr: [-3000, 3000], xt: tHins, yr: [-2, 2], yt: tMde,
  sets: [sqLine(dInsAH, dInsA, 1.8, 0.8), sqLine(dInsBH, dInsB, 1.8, 0.8)],
  deco: {white: true, tick: 2}
});
panel({
  box: [560, 642, 211, 268], yW: 9, xH: 9, padT: 4, padR: 8, fs: 5, tp: 2, xr: [-3000, 3000], xt: tHins, yr: [-2, 2], yt: tMde,
  sets: [sqLine(eInsAH, eInsA, 1.8, 0.8), sqLine(eInsBH, eInsB, 1.8, 0.8)],
  deco: {white: true, tick: 2}
});
</script>
</body>
</html>
